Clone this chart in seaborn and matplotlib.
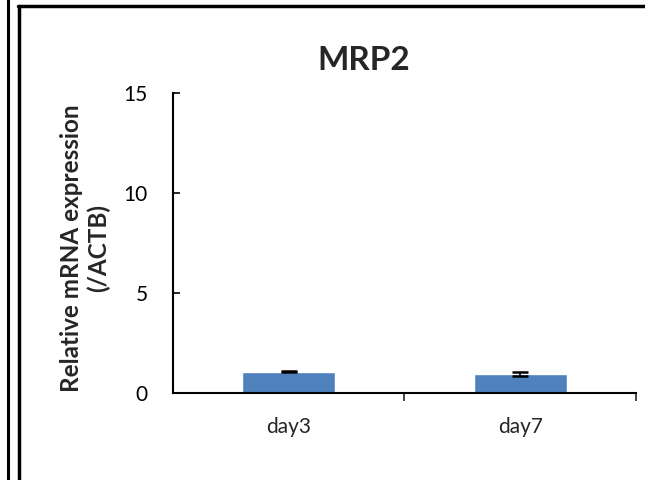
import matplotlib
matplotlib.use("Agg")
import matplotlib.pyplot as plt
import seaborn as sns
import pandas as pd
from matplotlib.lines import Line2D

categories = ["day3", "day7"]
values = [1.06, 0.95]
errors = [0.02, 0.08]
yticks = [0, 5, 10, 15]

sns.set_style("white")
plt.rcParams['font.family'] = ['Lato', 'DejaVu Sans']

fig = plt.figure(figsize=(6.45, 4.8), dpi=100)
ax = fig.add_axes([0.2682, 0.18125, 0.7178, 0.625])

df = pd.DataFrame({"day": categories, "val": values})
sns.barplot(data=df, x="day", y="val", color="#4F81BD", width=0.4,
            saturation=1, errorbar=None, ax=ax)
ax.errorbar(range(len(categories)), values, yerr=errors, fmt="none",
            ecolor="black", elinewidth=1.2, capsize=6, capthick=1.8)

ax.set_ylim(0, 15)
ax.set_xlim(-0.5, 1.5)
ax.set_yticks(yticks)
ax.set_yticklabels([str(t) for t in yticks], fontsize=15)
ax.tick_params(axis="y", direction="in", length=5, width=1.2, pad=18, left=True, colors="black")
ax.tick_params(axis="x", length=0, pad=17, labelsize=15)
ax.set_xticks([0.5, 1.5], minor=True)
ax.tick_params(axis="x", which="minor", direction="out", length=6, width=1.2, bottom=True)
ax.set_xlabel("")
ax.set_ylabel("")
for s in ["top", "right"]:
    ax.spines[s].set_visible(False)
for s in ["left", "bottom"]:
    ax.spines[s].set_color("black")
    ax.spines[s].set_linewidth(1.5)

fig.text(364/645, 1 - 60/480, "MRP2", ha="center", va="center", fontsize=24, fontweight="bold")
fig.text(85/645, 1 - 248/480, "Relative mRNA expression\n(/ACTB)", ha="center", va="center",
         rotation=90, fontsize=17.5, fontweight="bold", linespacing=1.2)

# panel borders
fig.add_artist(Line2D([8/645, 8/645], [0, 1], transform=fig.transFigure, color="black", lw=2.2))
fig.add_artist(Line2D([19/645, 19/645], [0, 1 - 6/480], transform=fig.transFigure, color="black", lw=2.5))
fig.add_artist(Line2D([18/645, 1], [1 - 6/480, 1 - 6/480], transform=fig.transFigure, color="black", lw=2.5))

fig.savefig("out.png", dpi=100)
